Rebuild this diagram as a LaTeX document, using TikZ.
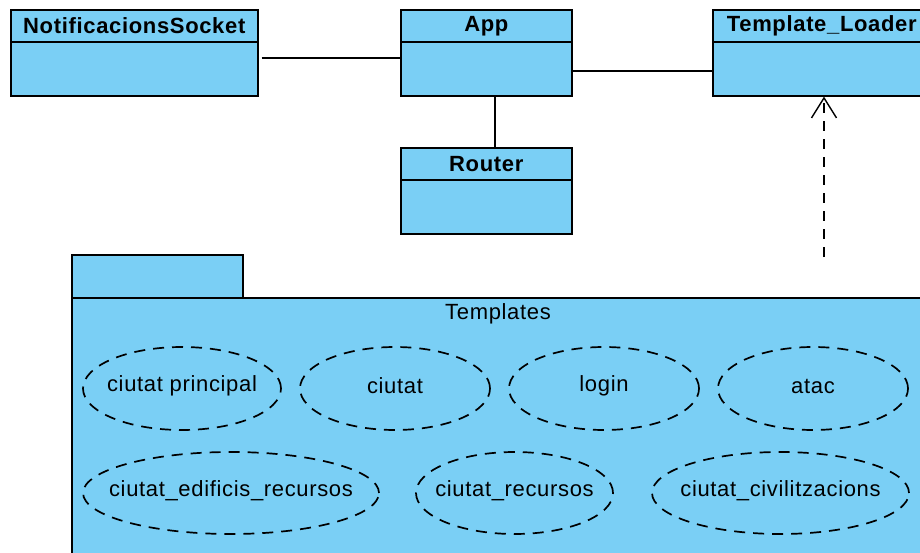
\documentclass[tikz,border=0pt]{standalone}
\usepackage{fontspec}
\setmainfont{Liberation Sans}
\newfontfamily\umlfont[LetterSpace=3]{Liberation Sans}
\usetikzlibrary{arrows.meta,shapes.geometric}
\definecolor{umlblue}{RGB}{122,207,245}
\begin{document}
\begin{tikzpicture}[x=1pt,y=-1pt,
  classbox/.style={draw=black, line width=1.6pt, fill=umlblue, rectangle, inner sep=0pt, anchor=north west},
  classname/.style={font=\umlfont\bfseries\fontsize{22}{26}\selectfont, inner sep=0pt},
  plaintext/.style={font=\umlfont\fontsize{22}{26}\selectfont, inner sep=0pt},
  conn/.style={draw=black, line width=1.4pt},
  usecase/.style={ellipse, draw=black, line width=1.7pt, dash pattern=on 11pt off 8pt, inner sep=0pt},
]
\useasboundingbox (0,0) rectangle (920,553);
\clip (0,0) rectangle (920,553);

% package
\node[classbox, minimum width=171pt, minimum height=43pt] (tab) at (71,254) {};
\node[classbox, minimum width=880pt, minimum height=280pt] (pkg) at (71,297) {};
\node[plaintext] (pkgname) at (498,313.5) {Templates};

% classes
\node[classbox, minimum width=247pt, minimum height=86pt] (notif) at (10,9) {};
\node[classbox, minimum width=171pt, minimum height=86pt] (app) at (400,9) {};
\node[classbox, minimum width=218pt, minimum height=86pt] (tl) at (712,9) {};
\node[classbox, minimum width=171pt, minimum height=86pt] (router) at (400,147) {};

\foreach \n in {notif,app,tl,router}{
  \draw[line width=1.6pt] ([yshift=-33pt]\n.north west) -- ([yshift=-33pt]\n.north east);
}
\node[classname] (notifT) at ([yshift=-17pt]notif.north) {NotificacionsSocket};
\node[classname] (appT) at ([yshift=-17pt]app.north) {App};
\node[classname] (tlT) at ([yshift=-17pt]tl.north) {Template\_Loader};
\node[classname] (routerT) at ([yshift=-17pt]router.north) {Router};

% connectors
\draw[conn] ([xshift=3pt]notif.east |- 0,58) -- (app.west |- 0,58);
\draw[conn] (app.east |- 0,71) -- (tl.west |- 0,71);
\draw[conn] (app.south -| 495,0) -- (router.north -| 495,0);
\coordinate (dstart) at (824,257);
\draw[conn, dash pattern=on 10pt off 8pt,
  -{Straight Barb[length=20pt,width=25pt,line width=1.4pt]}] (dstart) -- (tl.south -| dstart);

% use cases
\node[usecase, minimum width=198pt, minimum height=83pt] (uc1) at (182,388.5) {};
\node[usecase, minimum width=190pt, minimum height=83pt] (uc2) at (395,388.5) {};
\node[usecase, minimum width=190pt, minimum height=83pt] (uc3) at (604,388.5) {};
\node[usecase, minimum width=190pt, minimum height=83pt] (uc4) at (813,388.5) {};
\node[usecase, minimum width=296pt, minimum height=82pt] (uc5) at (231,493) {};
\node[usecase, minimum width=197pt, minimum height=82pt] (uc6) at (514.5,493) {};
\node[usecase, minimum width=257pt, minimum height=82pt] (uc7) at (780.5,493) {};

\node[plaintext] (uc1t) at ([yshift=2.5pt]uc1.center) {ciutat principal};
\node[plaintext] (uc2t) at ([yshift=2.5pt]uc2.center) {ciutat};
\node[plaintext] (uc3t) at ([yshift=2.5pt]uc3.center) {login};
\node[plaintext] (uc4t) at ([yshift=2.5pt]uc4.center) {atac};
\node[plaintext] (uc5t) at ([yshift=2.5pt]uc5.center) {ciutat\_edificis\_recursos};
\node[plaintext] (uc6t) at ([yshift=2.5pt]uc6.center) {ciutat\_recursos};
\node[plaintext] (uc7t) at ([yshift=2.5pt]uc7.center) {ciutat\_civilitzacions};
\end{tikzpicture}
\end{document}
